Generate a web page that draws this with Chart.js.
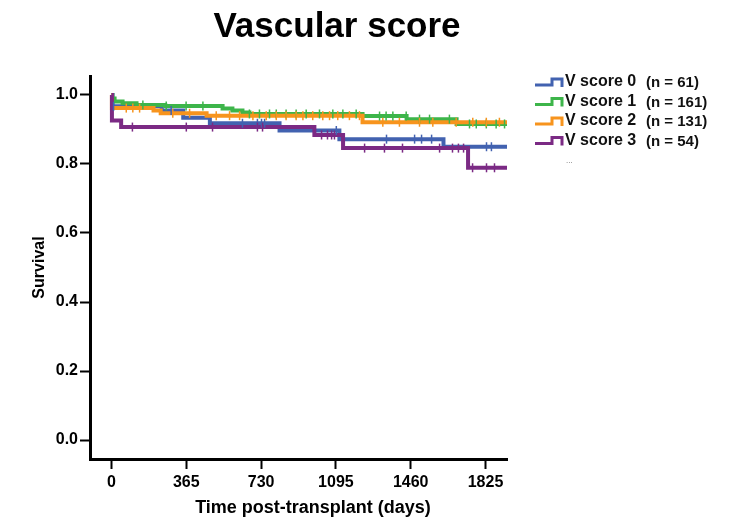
<!DOCTYPE html>
<html>
<head>
<meta charset="utf-8">
<title>Vascular score</title>
<script src="https://cdn.jsdelivr.net/npm/chart.js@4/dist/chart.umd.min.js"></script>
<style>
  body { margin: 0; background: #fff; }
  #chart { display: block; }
</style>
</head>
<body>
<canvas id="chart" width="730" height="520"></canvas>
<script>
// Kaplan-Meier survival by vascular score group
var groupLabels = ['V score 0', 'V score 1', 'V score 2', 'V score 3'];
var groupN = [61, 161, 131, 54];
var groupColors = ['#4262b0', '#3db54a', '#f7941d', '#7b2a84'];

// step points: day of event -> survival after it
var v0Days = [0, 5, 245, 350, 480, 820, 1112, 1620, 1930];
var v0Surv = [1.0, 0.967, 0.955, 0.934, 0.918, 0.897, 0.872, 0.850, 0.850];
var v1Days = [0, 4, 15, 54, 122, 262, 542, 590, 639, 673, 1225, 1440, 1684, 1930];
var v1Surv = [1.0, 0.990, 0.981, 0.976, 0.971, 0.968, 0.961, 0.955, 0.949, 0.945, 0.939, 0.930, 0.916, 0.916];
var v2Days = [0, 2, 205, 240, 464, 1225, 1930];
var v2Surv = [1.0, 0.962, 0.955, 0.947, 0.940, 0.921, 0.921];
var v3Days = [0, 2, 47, 990, 1130, 1740, 1930];
var v3Surv = [1.0, 0.926, 0.907, 0.884, 0.846, 0.789, 0.789];

// censored patients (days)
var v0Censor = [10, 291, 639, 712, 732, 747, 1097, 1342, 1479, 1513, 1562, 1830, 1854];
var v1Censor = [153, 267, 364, 446, 673, 722, 771, 804, 852, 901, 950, 1015, 1080, 1129, 1194, 1308, 1340, 1373, 1438, 1503, 1552, 1649, 1747, 1780, 1829, 1877, 1918];
var v2Censor = [72, 104, 137, 299, 381, 511, 576, 625, 690, 755, 804, 852, 901, 934, 982, 1031, 1064, 1104, 1161, 1210, 1324, 1405, 1503, 1568, 1682, 1763, 1829, 1893];
var v3Censor = [102, 365, 493, 712, 737, 1025, 1054, 1074, 1088, 1235, 1332, 1420, 1601, 1664, 1693, 1718, 1762, 1830, 1869];

var xTicks = [0, 365, 730, 1095, 1460, 1825];
var yTicks = [0, 0.2, 0.4, 0.6, 0.8, 1.0];

var curveDays = [v0Days, v1Days, v2Days, v3Days];
var curveSurv = [v0Surv, v1Surv, v2Surv, v3Surv];
var censorDays = [v0Censor, v1Censor, v2Censor, v3Censor];

Chart.defaults.font.family = "'Liberation Sans', Arial, sans-serif";
Chart.defaults.font.weight = 'bold';
Chart.defaults.color = '#000';

function survivalAt(days, surv, t) {
    var s = surv[0];
    for (var i = 0; i < days.length; i++) {
        if (days[i] <= t) s = surv[i];
    }
    return s;
}

var datasets = [];
for (let g = 0; g < 4; g++) {
    let pts = [];
    for (let i = 0; i < curveDays[g].length; i++) {
        pts.push({x: curveDays[g][i], y: curveSurv[g][i]});
    }
    datasets.push({
        label: groupLabels[g],
        data: pts,
        stepped: 'before',   // hold the level, then drop at the next event
        borderColor: groupColors[g],
        borderWidth: 4,
        pointRadius: 0,
        fill: false,
        order: 4 - g
    });
}
for (let g = 0; g < 4; g++) {
    let marks = censorDays[g].map(function (t) {
        return {x: t, y: survivalAt(curveDays[g], curveSurv[g], t)};
    });
    datasets.push({
        label: groupLabels[g] + ' censored',
        data: marks,
        showLine: false,
        pointStyle: 'line',
        rotation: 90,
        pointRadius: 4.5,
        borderWidth: 1.5,
        borderColor: groupColors[g],
        order: -g
    });
}

// title, x axis title and the step-shaped legend
var decorPlugin = {
    id: 'decor',
    afterDraw: function (chart) {
        var c = chart.ctx;
        c.save();
        c.fillStyle = '#000';
        c.textAlign = 'center';
        c.textBaseline = 'alphabetic';
        c.font = "bold 35px 'Liberation Sans', Arial, sans-serif";
        c.fillText('Vascular score', 337, 37);

        c.font = "bold 18px 'Liberation Sans', Arial, sans-serif";
        c.textBaseline = 'middle';
        c.fillText('Time post-transplant (days)', 313, 508);

        c.textAlign = 'left';
        var rowY = [82, 101.5, 121, 140.5];
        for (var i = 0; i < 4; i++) {
            var y = rowY[i];
            c.strokeStyle = groupColors[i];
            c.lineWidth = 3;
            c.lineJoin = 'miter';
            c.beginPath();
            c.moveTo(535, y + 3);
            c.lineTo(552, y + 3);
            c.lineTo(552, y - 3);
            c.lineTo(562, y - 3);
            c.lineTo(562, y + 5);
            c.stroke();
            c.fillStyle = '#111';
            c.font = "bold 16px 'Liberation Sans', Arial, sans-serif";
            c.fillText(groupLabels[i], 565, y);
            c.font = "bold 15px 'Liberation Sans', Arial, sans-serif";
            c.fillText('(n = ' + groupN[i] + ')', 646, y + 1);
        }
        c.fillStyle = '#666';
        c.font = "8px 'Liberation Sans', Arial, sans-serif";
        c.fillText('...', 566, 161);
        c.restore();
    }
};

var ctx = document.getElementById('chart');
var chart = new Chart(ctx, {
    type: 'line',
    data: { datasets: datasets },
    plugins: [decorPlugin],
    options: {
        responsive: false,
        animation: false,
        layout: { padding: { top: 76, right: 223, left: 0, bottom: 0 } },
        plugins: {
            legend: { display: false },
            title: { display: false },
            tooltip: { enabled: false }
        },
        scales: {
            x: {
                type: 'linear',
                min: -105,
                max: 1930,
                afterFit: function (scale) { scale.height = 61; },
                afterBuildTicks: function (scale) {
                    scale.ticks = xTicks.map(function (v) { return {value: v}; });
                },
                ticks: {
                    font: { size: 16, weight: 'bold' },
                    padding: 4,
                    maxRotation: 0,
                    callback: function (v) { return String(v); }
                },
                grid: { drawOnChartArea: false, tickLength: 10, tickWidth: 2, tickColor: '#000' },
                border: { color: '#000', width: 3 }
            },
            y: {
                min: -0.055,
                max: 1.055,
                afterFit: function (scale) { scale.width = 90; },
                afterBuildTicks: function (scale) {
                    scale.ticks = yTicks.map(function (v) { return {value: v}; });
                },
                ticks: {
                    font: { size: 16, weight: 'bold' },
                    padding: 2,
                    callback: function (v) { return v.toFixed(1); }
                },
                grid: { drawOnChartArea: false, tickLength: 10, tickWidth: 2, tickColor: '#000' },
                border: { color: '#000', width: 3 },
                title: {
                    display: true,
                    text: 'Survival',
                    font: { size: 16, weight: 'bold' },
                    padding: { top: 30, bottom: 0 }
                }
            }
        }
    }
});
</script>
</body>
</html>
